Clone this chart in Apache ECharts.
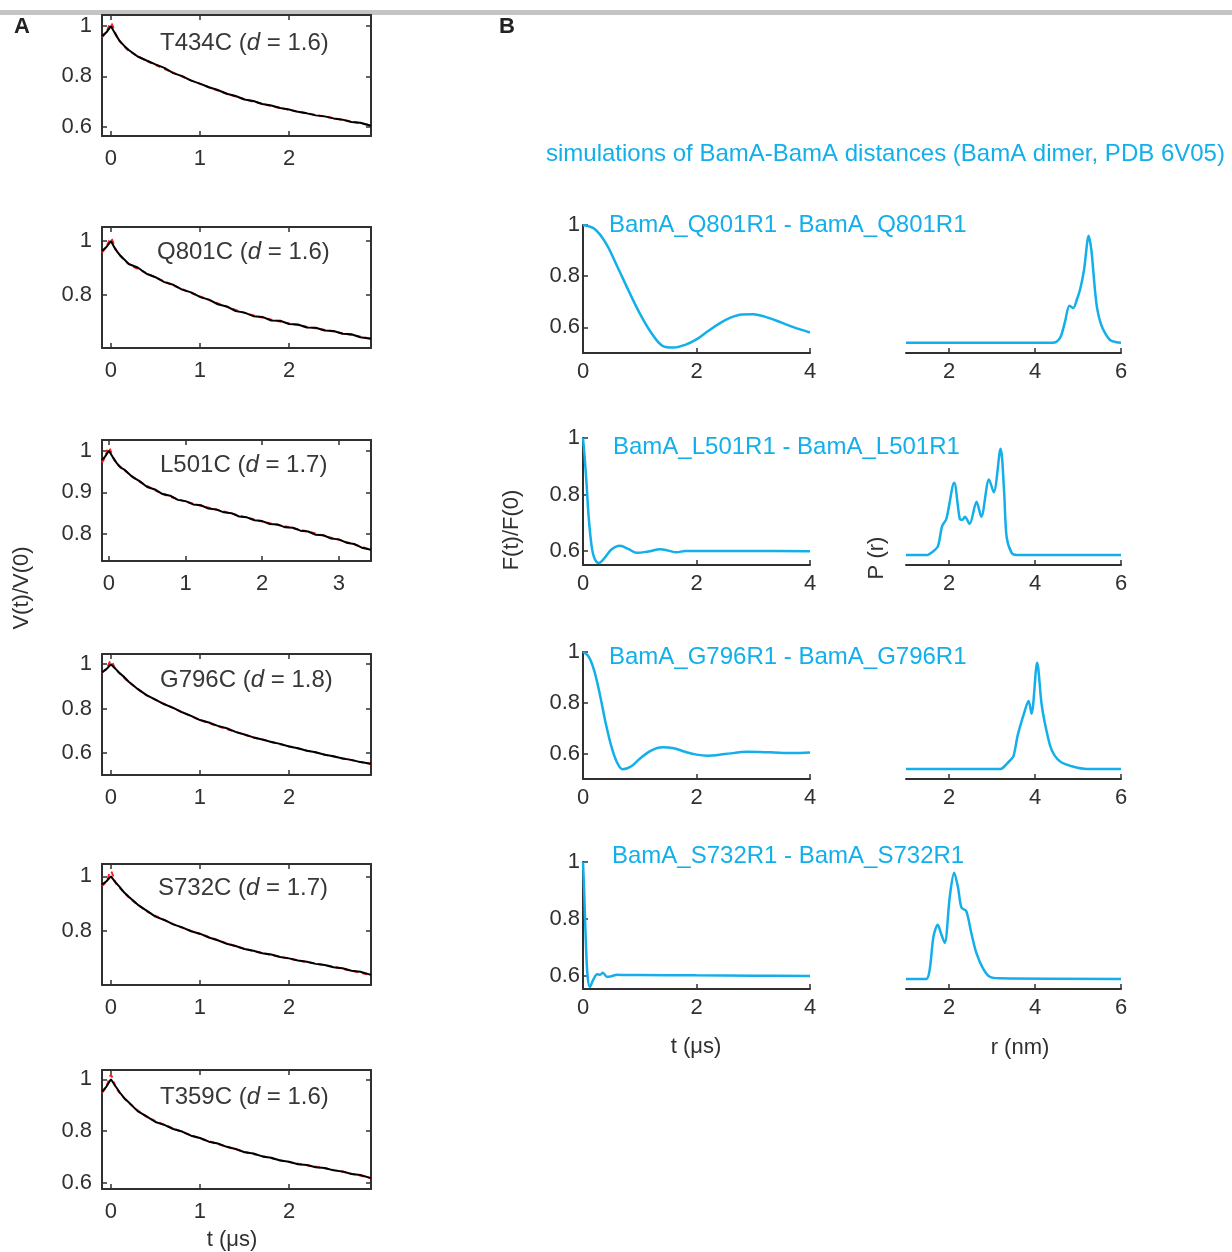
<!DOCTYPE html>
<html>
<head>
<meta charset="utf-8">
<script src="https://cdn.jsdelivr.net/npm/echarts@6/dist/echarts.min.js"></script>
<style>
  html, body { margin: 0; background: #fff; }
  #chart-container { width: 1232px; height: 1252px; }
</style>
</head>
<body>
<div id="chart-container"></div>
<script>
// ---------- Panel A : DEER traces V(t)/V(0) ----------
const tA = [-0.1, -0.05, 0, 0.05, 0.1, 0.15, 0.2, 0.3, 0.4, 0.5, 0.6, 0.7, 0.8, 0.9, 1.0, 1.1, 1.2, 1.3, 1.4, 1.5, 1.6, 1.7, 1.8, 1.9, 2.0, 2.1, 2.2, 2.3, 2.4, 2.5, 2.6, 2.7, 2.8, 2.92];
const tA3 = [-0.09, -0.05, 0, 0.05, 0.1, 0.15, 0.2, 0.3, 0.4, 0.5, 0.6, 0.7, 0.8, 0.9, 1.0, 1.1, 1.2, 1.3, 1.4, 1.5, 1.6, 1.7, 1.8, 1.9, 2.0, 2.1, 2.2, 2.3, 2.4, 2.5, 2.6, 2.7, 2.8, 2.9, 3.0, 3.1, 3.2, 3.3, 3.42];
const vT434 = [0.96, 0.975, 1.0, 0.968, 0.94, 0.921, 0.905, 0.879, 0.863, 0.848, 0.834, 0.813, 0.801, 0.783, 0.771, 0.757, 0.746, 0.731, 0.722, 0.708, 0.702, 0.69, 0.684, 0.674, 0.668, 0.659, 0.653, 0.645, 0.641, 0.633, 0.628, 0.619, 0.616, 0.604];
const vQ801 = [0.963, 0.978, 1.0, 0.97, 0.948, 0.932, 0.915, 0.902, 0.879, 0.866, 0.848, 0.838, 0.82, 0.81, 0.793, 0.783, 0.766, 0.758, 0.741, 0.735, 0.722, 0.719, 0.706, 0.705, 0.693, 0.691, 0.68, 0.679, 0.669, 0.667, 0.657, 0.655, 0.644, 0.638];
const vL501 = [0.978, 0.986, 1.0, 0.985, 0.971, 0.96, 0.955, 0.938, 0.927, 0.913, 0.907, 0.896, 0.892, 0.882, 0.879, 0.871, 0.869, 0.861, 0.859, 0.852, 0.85, 0.842, 0.84, 0.833, 0.831, 0.824, 0.823, 0.816, 0.815, 0.808, 0.806, 0.798, 0.797, 0.789, 0.787, 0.779, 0.776, 0.767, 0.762];
const vG796 = [0.964, 0.978, 1.0, 0.98, 0.959, 0.942, 0.921, 0.889, 0.861, 0.841, 0.82, 0.804, 0.784, 0.768, 0.749, 0.738, 0.723, 0.712, 0.696, 0.684, 0.671, 0.662, 0.65, 0.642, 0.63, 0.622, 0.611, 0.604, 0.593, 0.586, 0.576, 0.57, 0.56, 0.553];
const vS732 = [0.97, 0.982, 1.0, 0.979, 0.961, 0.941, 0.926, 0.897, 0.875, 0.853, 0.841, 0.825, 0.814, 0.8, 0.791, 0.777, 0.767, 0.754, 0.746, 0.735, 0.729, 0.72, 0.715, 0.706, 0.701, 0.693, 0.689, 0.681, 0.677, 0.669, 0.665, 0.656, 0.652, 0.641];
const vT359 = [0.952, 0.972, 1.0, 0.974, 0.949, 0.927, 0.911, 0.877, 0.857, 0.835, 0.824, 0.808, 0.798, 0.782, 0.773, 0.759, 0.752, 0.739, 0.731, 0.718, 0.713, 0.702, 0.697, 0.686, 0.681, 0.672, 0.669, 0.66, 0.657, 0.648, 0.644, 0.634, 0.63, 0.618];

// fits (red dashed, mostly hidden under the data)
const tFit = [-0.1, -0.05, 0, 0.05, 0.1, 0.2, 0.4, 0.7, 1.0, 1.5, 2.0, 2.5, 2.92];
const tFit3 = [-0.09, -0.05, 0, 0.05, 0.1, 0.2, 0.4, 0.7, 1.0, 1.5, 2.0, 2.5, 3.0, 3.42];
const fitT434 = [0.955, 0.978, 1.012, 0.972, 0.94, 0.903, 0.862, 0.815, 0.77, 0.709, 0.667, 0.634, 0.605];
const fitQ801 = [0.958, 0.98, 1.01, 0.972, 0.947, 0.916, 0.881, 0.836, 0.795, 0.734, 0.695, 0.665, 0.638];
const fitL501 = [0.972, 0.985, 1.008, 0.985, 0.97, 0.954, 0.926, 0.897, 0.878, 0.854, 0.83, 0.81, 0.786, 0.762];
const fitG796 = [0.962, 0.98, 1.015, 0.98, 0.958, 0.921, 0.861, 0.803, 0.75, 0.683, 0.631, 0.585, 0.551];
const fitS732 = [0.965, 0.982, 1.018, 0.978, 0.958, 0.924, 0.874, 0.826, 0.79, 0.736, 0.7, 0.67, 0.64];
const fitT359 = [0.948, 0.972, 1.016, 0.972, 0.947, 0.91, 0.856, 0.81, 0.772, 0.72, 0.68, 0.65, 0.618];

const mutantsA = ['T434C', 'Q801C', 'L501C', 'G796C', 'S732C', 'T359C'];
const dValues = ['1.6', '1.6', '1.7', '1.8', '1.7', '1.6'];
const xTicksA = [[0, 1, 2], [0, 1, 2], [0, 1, 2, 3], [0, 1, 2], [0, 1, 2], [0, 1, 2]];
const yTicksA = [[0.6, 0.8, 1], [0.8, 1], [0.8, 0.9, 1], [0.6, 0.8, 1], [0.8, 1], [0.6, 0.8, 1]];

// ---------- Panel B : simulated form factors and distance distributions ----------
const tQ801 = [0, 0.2, 0.4, 0.6, 0.8, 1.0, 1.2, 1.4, 1.6, 1.8, 2.0, 2.2, 2.4, 2.6, 2.8, 3.0, 3.2, 3.4, 3.6, 3.8, 4.0];
const fQ801 = [1.0, 0.985, 0.93, 0.84, 0.745, 0.655, 0.58, 0.528, 0.521, 0.532, 0.553, 0.585, 0.615, 0.638, 0.65, 0.651, 0.642, 0.627, 0.61, 0.594, 0.58];
const tL501 = [0, 0.03, 0.065, 0.1, 0.15, 0.2, 0.28, 0.4, 0.5, 0.65, 0.8, 0.95, 1.15, 1.36, 1.5, 1.65, 1.8, 2.0, 3.0, 4.0];
const fL501 = [1.0, 0.93, 0.83, 0.72, 0.62, 0.575, 0.557, 0.58, 0.605, 0.618, 0.607, 0.593, 0.598, 0.606, 0.601, 0.595, 0.6, 0.6, 0.6, 0.599];
const tG796 = [0, 0.1, 0.2, 0.3, 0.4, 0.5, 0.6, 0.7, 0.85, 1.0, 1.2, 1.4, 1.6, 1.8, 2.0, 2.2, 2.5, 2.9, 3.3, 3.7, 4.0];
const fG796 = [1.0, 0.982, 0.925, 0.83, 0.72, 0.628, 0.565, 0.538, 0.55, 0.58, 0.612, 0.625, 0.621, 0.607, 0.596, 0.592, 0.598, 0.607, 0.605, 0.602, 0.604];
const tS732 = [0, 0.02, 0.05, 0.08, 0.12, 0.18, 0.25, 0.3, 0.35, 0.42, 0.5, 0.6, 0.8, 1.0, 2.0, 3.0, 4.0];
const fS732 = [1.0, 0.9, 0.72, 0.6, 0.56, 0.585, 0.605, 0.603, 0.61, 0.596, 0.598, 0.603, 0.602, 0.602, 0.601, 0.6, 0.599];

const rQ801 = [1, 4.4, 4.5, 4.6, 4.7, 4.8, 4.89, 4.97, 5.05, 5.14, 5.25, 5.31, 5.36, 5.4, 5.45, 5.53, 5.63, 5.75, 5.9, 6.0];
const pQ801 = [0, 0, 0.01, 0.06, 0.2, 0.346, 0.324, 0.4, 0.5, 0.68, 1.0, 0.87, 0.65, 0.47, 0.31, 0.18, 0.09, 0.025, 0.005, 0];
const rL501 = [1, 1.5, 1.59, 1.74, 1.84, 1.94, 2.12, 2.25, 2.31, 2.37, 2.48, 2.64, 2.75, 2.93, 3.04, 3.2, 3.28, 3.34, 3.46, 3.57, 6.0];
const pL501 = [0, 0, 0.02, 0.08, 0.27, 0.34, 0.68, 0.34, 0.33, 0.36, 0.29, 0.5, 0.36, 0.71, 0.59, 1.0, 0.61, 0.17, 0.016, 0, 0];
const rG796 = [1, 3.2, 3.35, 3.42, 3.5, 3.6, 3.75, 3.85, 3.92, 4.05, 4.15, 4.22, 4.35, 4.45, 4.6, 4.9, 5.2, 6.0];
const pG796 = [0, 0, 0.05, 0.08, 0.12, 0.32, 0.53, 0.64, 0.52, 1.0, 0.62, 0.45, 0.22, 0.13, 0.065, 0.02, 0, 0];
const rS732 = [1, 1.47, 1.55, 1.64, 1.74, 1.82, 1.9, 2.02, 2.12, 2.21, 2.29, 2.4, 2.52, 2.64, 2.79, 2.95, 3.18, 6.0];
const pS732 = [0, 0, 0.085, 0.4, 0.51, 0.42, 0.34, 0.78, 1.0, 0.86, 0.67, 0.64, 0.43, 0.24, 0.1, 0.02, 0.006, 0];

const pairsB = ['BamA_Q801R1 - BamA_Q801R1', 'BamA_L501R1 - BamA_L501R1', 'BamA_G796R1 - BamA_G796R1', 'BamA_S732R1 - BamA_S732R1'];
const xTicksBt = [0, 2, 4];
const xTicksBr = [2, 4, 6];
const yTicksB = [0.6, 0.8, 1];

// ---------- layout ----------
const FONT = '"Liberation Sans", Arial, Helvetica, sans-serif';
const AX = '#303030';
const CYAN = '#12afea';

const layoutA = [
    { box: [102, 15, 371, 136], x: [-0.1, 2.92], y: [0.563, 1.044], tx: 160, ty: 43 },
    { box: [102, 227, 371, 348], x: [-0.1, 2.92], y: [0.604, 1.052], tx: 157, ty: 252 },
    { box: [102, 440, 371, 561], x: [-0.09, 3.42], y: [0.735, 1.026], tx: 160, ty: 465 },
    { box: [102, 654, 371, 775], x: [-0.1, 2.92], y: [0.502, 1.046], tx: 160, ty: 680 },
    { box: [102, 864, 371, 985], x: [-0.1, 2.92], y: [0.604, 1.045], tx: 158, ty: 888 },
    { box: [102, 1070, 371, 1189], x: [-0.1, 2.92], y: [0.576, 1.036], tx: 160, ty: 1097 }
];
const layoutB = [
    { top: 225, bottom: 353, yMin: 0.5, tx: 609, ty: 225 },
    { top: 438, bottom: 565, yMin: 0.55, tx: 613, ty: 447 },
    { top: 652, bottom: 779, yMin: 0.5, tx: 609, ty: 657 },
    { top: 862, bottom: 989, yMin: 0.553, tx: 612, ty: 856 }
];

const grids = [], xAxes = [], yAxes = [], series = [], titles = [];

function addGrid(b) {
    grids.push({ left: b[0], top: b[1], width: b[2] - b[0], height: b[3] - b[1], containLabel: false, outerBoundsMode: 'none' });
    return grids.length - 1;
}

function makeAxis(gi, min, max, ticks, pos, showLabel, margin, showLine) {
    return {
        type: 'value', gridIndex: gi, position: pos, min: min, max: max,
        axisLine: { show: showLine, onZero: false, lineStyle: { color: AX, width: 2 } },
        axisTick: { show: true, inside: true, length: 5, customValues: ticks, lineStyle: { color: AX, width: 1.5 } },
        axisLabel: { show: showLabel, customValues: ticks, margin: margin, color: AX, fontSize: 22, fontFamily: FONT },
        splitLine: { show: false }
    };
}

function pts(xs, ys) {
    return xs.map((x, i) => [x, ys[i]]);
}

// Panel A
const tracesA = [
    [tA, vT434, tFit, fitT434],
    [tA, vQ801, tFit, fitQ801],
    [tA3, vL501, tFit3, fitL501],
    [tA, vG796, tFit, fitG796],
    [tA, vS732, tFit, fitS732],
    [tA, vT359, tFit, fitT359]
];
layoutA.forEach(function (L, k) {
    const gi = addGrid(L.box);
    xAxes.push(makeAxis(gi, L.x[0], L.x[1], xTicksA[k], 'bottom', true, 12, true));
    const xi = xAxes.length - 1;
    xAxes.push(makeAxis(gi, L.x[0], L.x[1], xTicksA[k], 'top', false, 0, true));
    yAxes.push(makeAxis(gi, L.y[0], L.y[1], yTicksA[k], 'left', true, 10, true));
    const yi = yAxes.length - 1;
    yAxes.push(makeAxis(gi, L.y[0], L.y[1], yTicksA[k], 'right', false, 0, true));
    const tr = tracesA[k];
    series.push({
        type: 'line', xAxisIndex: xi, yAxisIndex: yi, data: pts(tr[2], tr[3]),
        showSymbol: false, smooth: 0.3, z: 2,
        lineStyle: { color: '#ff2020', width: 2, type: [5, 4] }
    });
    series.push({
        type: 'line', xAxisIndex: xi, yAxisIndex: yi, data: pts(tr[0], tr[1]),
        showSymbol: false, z: 3,
        lineStyle: { color: '#000', width: 2 }
    });
    titles.push({
        left: L.tx, top: L.ty - 13, padding: 0,
        text: '{n|' + mutantsA[k] + ' (}{i|d}{n| = ' + dValues[k] + ')}',
        textStyle: {
            fontWeight: 'normal',
            rich: {
                n: { fontSize: 24, fontFamily: FONT, fontWeight: 'normal', color: '#383838', lineHeight: 26 },
                i: { fontSize: 24, fontFamily: FONT, fontWeight: 'normal', color: '#383838', fontStyle: 'italic', lineHeight: 26 }
            }
        }
    });
});

// Panel B
const tracesB = [
    [tQ801, fQ801, rQ801, pQ801],
    [tL501, fL501, rL501, pL501],
    [tG796, fG796, rG796, pG796],
    [tS732, fS732, rS732, pS732]
];
layoutB.forEach(function (L, k) {
    const tr = tracesB[k];
    // form factor
    let gi = addGrid([583, L.top, 810, L.bottom]);
    xAxes.push(makeAxis(gi, 0, 4, xTicksBt, 'bottom', true, 8, true));
    let xi = xAxes.length - 1;
    yAxes.push(makeAxis(gi, L.yMin, 1, yTicksB, 'left', true, 3, true));
    let yi = yAxes.length - 1;
    series.push({
        type: 'line', xAxisIndex: xi, yAxisIndex: yi, data: pts(tr[0], tr[1]),
        showSymbol: false, smooth: 0.35,
        lineStyle: { color: CYAN, width: 2.5 }
    });
    // distance distribution
    gi = addGrid([906, L.top, 1121, L.bottom]);
    xAxes.push(makeAxis(gi, 1, 6, xTicksBr, 'bottom', true, 8, true));
    xi = xAxes.length - 1;
    yAxes.push({ type: 'value', gridIndex: gi, min: -0.095, max: 1.1, show: false, splitLine: { show: false } });
    yi = yAxes.length - 1;
    series.push({
        type: 'line', xAxisIndex: xi, yAxisIndex: yi, data: pts(tr[2], tr[3]),
        showSymbol: false, smooth: 0.3,
        lineStyle: { color: CYAN, width: 2.5 }
    });
    titles.push({
        left: L.tx, top: L.ty - 13, padding: 0, text: pairsB[k],
        textStyle: { fontSize: 24, fontWeight: 'normal', fontFamily: FONT, color: CYAN, lineHeight: 26 }
    });
});

titles.push({
    left: 546, top: 141, padding: 0,
    text: 'simulations of BamA-BamA distances (BamA dimer, PDB 6V05)',
    textStyle: { fontSize: 24, fontWeight: 'normal', fontFamily: FONT, color: CYAN, lineHeight: 26 }
});

function label(text, x, y, rot, font, fill) {
    return {
        type: 'text', x: x, y: y, rotation: rot || 0, z: 10,
        style: { text: text, font: font || ('22px ' + FONT), fill: fill || AX, textAlign: 'center', textVerticalAlign: 'middle', verticalAlign: 'middle' }
    };
}

const graphics = [
    { type: 'rect', shape: { x: 0, y: 10, width: 1232, height: 5 }, style: { fill: '#c4c4c4' }, z: 0 },
    label('A', 22, 27, 0, 'bold 22px ' + FONT, '#222'),
    label('B', 507, 27, 0, 'bold 22px ' + FONT, '#222'),
    label('V(t)/V(0)', 22, 588, Math.PI / 2),
    label('t (μs)', 232, 1240),
    label('F(t)/F(0)', 512, 530, Math.PI / 2),
    label('P (r)', 877, 558, Math.PI / 2),
    label('t (μs)', 696, 1047),
    label('r (nm)', 1020, 1048)
];

const chart = echarts.init(document.getElementById('chart-container'));
chart.setOption({
    animation: false,
    backgroundColor: '#fff',
    title: titles,
    grid: grids,
    xAxis: xAxes,
    yAxis: yAxes,
    series: series,
    graphic: graphics
});
</script>
</body>
</html>
